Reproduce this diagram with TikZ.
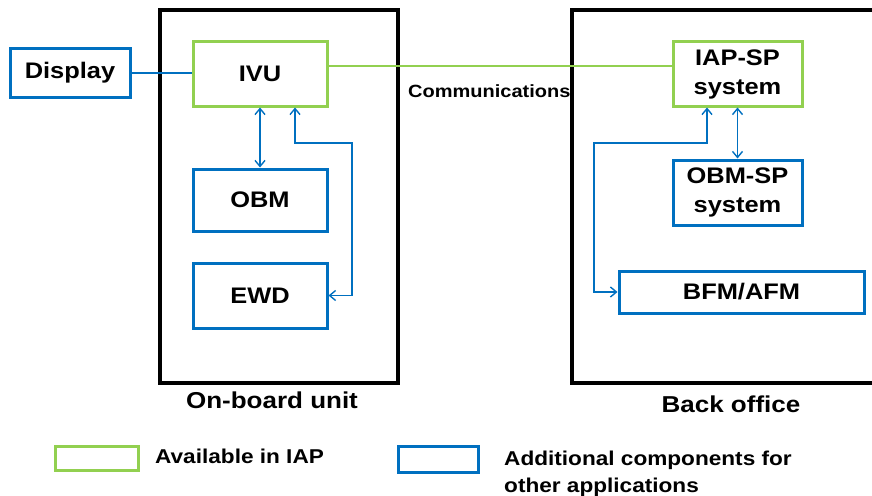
\documentclass[tikz,border=0pt]{standalone}
\usepackage{fontspec}
\setmainfont{Liberation Sans}[FakeStretch=1.13]
\usetikzlibrary{arrows.meta,calc}
\definecolor{iapgreen}{RGB}{146,208,80}
\definecolor{addblue}{RGB}{0,112,192}
\begin{document}
\begin{tikzpicture}[x=1pt,y=-1pt,
  comp/.style={draw, line width=3pt, fill=white, inner sep=0pt, align=center,
    font=\fontsize{22.5}{29}\selectfont\bfseries},
  greenbox/.style={comp, draw=iapgreen},
  bluebox/.style={comp, draw=addblue},
  frame/.style={draw=black, line width=3.5pt, inner sep=0pt},
  link/.style={draw=addblue, line width=1.4pt},
  arr/.style={link, {Straight Barb[length=6pt,width=10pt]}-{Straight Barb[length=6pt,width=10pt]}},
  lbl/.style={font=\fontsize{23}{27}\selectfont\bfseries, inner sep=0pt},
  small/.style={font=\fontsize{17.7}{21}\selectfont\bfseries, inner sep=0pt},
  leg/.style={font=\fontsize{20}{24}\selectfont\bfseries, inner sep=0pt}]
\useasboundingbox (0,0) rectangle (872,495);
\clip (0,0) rectangle (872,495);
\fill[white] (0,0) rectangle (872,495);

% containers
\node[frame, minimum width=238pt, minimum height=373pt] (onb) at (279,196.5) {};
\node[frame, minimum width=318pt, minimum height=373pt] (bo) at (731,196.5) {};

% components
\node[greenbox, minimum width=134pt, minimum height=64pt] (ivu) at (260,74) {IVU};
\node[bluebox, minimum width=120pt, minimum height=48pt] (disp) at (70,73) {Display};
\node[bluebox, minimum width=134pt, minimum height=62pt] (obm) at (260,200) {OBM};
\node[bluebox, minimum width=134pt, minimum height=65pt] (ewd) at (260,295.5) {EWD};
\node[greenbox, minimum width=129pt, minimum height=64pt] (iap) at (737.5,74) {IAP-SP\\system};
\node[bluebox, minimum width=129pt, minimum height=65pt] (obmsp) at (737.5,192.5) {OBM-SP\\system};
\node[bluebox, minimum width=245pt, minimum height=42pt] (bfm) at (741.5,292) {BFM/AFM};

% connectors
\draw[link] (disp.east) -- (disp.east -| ivu.west);
\draw[draw=iapgreen, line width=1.5pt] (ivu.east |- 0,66) -- (iap.west |- 0,66);
\node[small, anchor=base west] (comm) at (408,97) {Communications};
\draw[arr] (ivu.south) -- (obm.north);
\draw[arr] (ewd.east) -- (352,295.5) -- (352,143) -| ($(ivu.south)+(35,0)$);
\draw[arr] (iap.south) -- (obmsp.north);
\draw[arr] (bfm.west) -- (594,292) -- (594,143) -| ($(iap.south)+(-30.5,0)$);

% labels
\node[lbl, anchor=base] (onbl) at (272,408) {On-board unit};
\node[lbl, anchor=base] (bol) at (731,412) {Back office};

% legend
\node[greenbox, minimum width=83pt, minimum height=24pt] (lg) at (96.5,458) {};
\node[leg, anchor=base west] (lgt) at (155,463) {Available in IAP};
\node[bluebox, minimum width=80pt, minimum height=26pt] (lb) at (438,459) {};
\node[leg, anchor=base west] (lbt1) at (504,465) {Additional components for};
\node[leg, anchor=base west] (lbt2) at (504,492) {other applications};
\end{tikzpicture}
\end{document}
